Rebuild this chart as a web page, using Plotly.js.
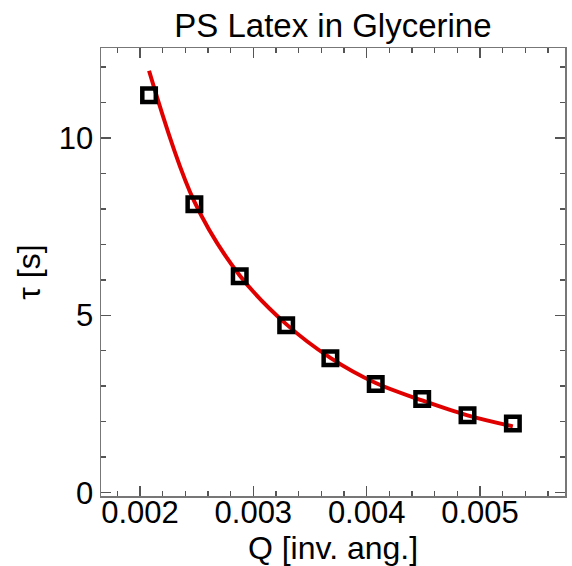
<!DOCTYPE html>
<html>
<head>
<meta charset="utf-8">
<script src="https://cdn.plot.ly/plotly-3.0.1.min.js"></script>
<style>html,body{margin:0;padding:0;background:#fff;}#chart{width:572px;height:566px;}</style>
</head>
<body>
<div id="chart"></div>
<script>
// Measured data points
const qData = [0.00208, 0.00248, 0.00288, 0.00329, 0.00368, 0.00408, 0.00449, 0.00489, 0.00529];
const tauData = [11.20, 8.13, 6.10, 4.72, 3.79, 3.06, 2.64, 2.18, 1.95];
// Fit curve
const qFit = [0.00208, 0.00248, 0.00288, 0.00329, 0.00368, 0.00408, 0.00449, 0.00489, 0.00529];
const tauFit = [11.89, 8.20, 6.12, 4.75, 3.80, 3.09, 2.60, 2.18, 1.87];

const FONT = "Liberation Sans, Arial, Helvetica, sans-serif";

const traces = [
  {
    x: qFit, y: tauFit, type: 'scatter', mode: 'lines',
    line: {color: '#e00000', width: 4, shape: 'spline', smoothing: 1},
    hoverinfo: 'skip', showlegend: false
  },
  {
    x: qData, y: tauData, type: 'scatter', mode: 'markers',
    marker: {symbol: 'square-open', size: 13.5, color: '#000', line: {color: '#000', width: 4.5}},
    showlegend: false
  }
];

const axisCommon = {
  showgrid: false, zeroline: false, showline: true, linecolor: '#777', linewidth: 1.5,
  mirror: 'allticks', ticks: 'inside', ticklen: 10, tickwidth: 1.5, tickcolor: '#555',
  tickfont: {family: FONT, size: 31, color: '#000'}
};

const layout = {
  width: 572, height: 566,
  paper_bgcolor: '#fff', plot_bgcolor: '#fff',
  margin: {l: 101, r: 7, t: 48, b: 70},
  title: {text: 'PS Latex in Glycerine', font: {family: FONT, size: 33, color: '#000'},
          x: 0.582, xanchor: 'center', y: 0.976, yanchor: 'top'},
  xaxis: Object.assign({}, axisCommon, {
    range: [0.001656, 0.00575],
    tickvals: [0.002, 0.003, 0.004, 0.005],
    ticktext: ['0.002', '0.003', '0.004', '0.005'],
    ticklabelstandoff: -12,
    minor: {dtick: 0.0002, tick0: 0.002, ticks: 'inside', ticklen: 5, tickwidth: 1.5, tickcolor: '#555'},
    title: {text: 'Q [inv. ang.]', font: {family: FONT, size: 32, color: '#000'}, standoff: 0}
  }),
  yaxis: Object.assign({}, axisCommon, {
    range: [-0.093, 12.53],
    tickvals: [0, 5, 10],
    ticktext: ['0', '5', '10'],
    minor: {dtick: 1, tick0: 0, ticks: 'inside', ticklen: 5, tickwidth: 1.5, tickcolor: '#555'},
    title: {text: 'τ [s]', font: {family: FONT, size: 32, color: '#000'}, standoff: 8}
  })
};

Plotly.newPlot('chart', traces, layout, {displayModeBar: false, staticPlot: true});
</script>
</body>
</html>
